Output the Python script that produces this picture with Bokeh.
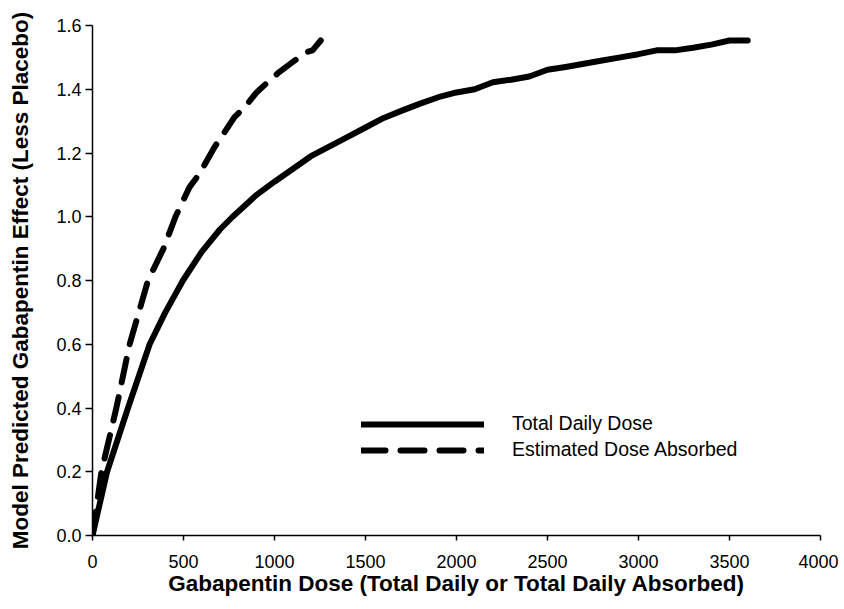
from bokeh.plotting import figure
from bokeh.models import Range1d, FixedTicker, PrintfTickFormatter, Legend, LegendItem
from bokeh.embed import file_html
from bokeh.resources import INLINE

# Total daily dose curve
dose_total = [0, 80, 195, 314, 400, 497, 600, 700, 770, 898, 1000, 1100, 1200, 1300,
              1400, 1500, 1600, 1700, 1800, 1900, 2000, 2100, 2200, 2300, 2400, 2500,
              2600, 2700, 2800, 2900, 3000, 3100, 3200, 3300, 3400, 3500, 3600]
effect_total = [0.0, 0.2, 0.4, 0.6, 0.7, 0.8, 0.89, 0.96, 1.0, 1.067, 1.11, 1.15, 1.19, 1.22,
                1.25, 1.28, 1.31, 1.333, 1.355, 1.375, 1.39, 1.40, 1.422, 1.43, 1.44, 1.461,
                1.47, 1.48, 1.49, 1.50, 1.51, 1.522, 1.522, 1.53, 1.54, 1.553, 1.553]

# Estimated dose absorbed curve
dose_abs = [0, 49, 131, 204, 305, 390, 456, 533, 588, 670, 725, 779, 840, 898, 962,
            1026, 1099, 1172, 1209, 1254]
effect_abs = [0.0, 0.2, 0.4, 0.6, 0.8, 0.9, 1.0, 1.093, 1.135, 1.218, 1.265, 1.312, 1.346,
              1.388, 1.422, 1.454, 1.485, 1.516, 1.522, 1.553]

x_ticks = [0, 500, 1000, 1500, 2000, 2500, 3000, 3500, 4000]
y_ticks = [0.0, 0.2, 0.4, 0.6, 0.8, 1.0, 1.2, 1.4, 1.6]

FONT = "Liberation Sans"

p = figure(width=838, height=598, output_backend="svg", toolbar_location=None,
           x_range=Range1d(0, 4000), y_range=Range1d(0, 1.6),
           min_border_left=92, min_border_right=18, min_border_top=25, min_border_bottom=63)
p.outline_line_color = None
p.xgrid.visible = False
p.ygrid.visible = False
p.background_fill_color = "white"
p.border_fill_color = "white"

r1 = p.line(dose_total, effect_total, line_color="black", line_width=6, line_cap="round",
            line_join="round")
r2 = p.line(dose_abs, effect_abs, line_color="black", line_width=6, line_cap="round",
            line_join="round", line_dash="24 15")

for ax in (p.xaxis[0], p.yaxis[0]):
    ax.axis_line_color = "black"
    ax.axis_line_width = 1.5
    ax.major_tick_line_color = "black"
    ax.major_tick_line_width = 1.5
    ax.major_tick_in = 0
    ax.minor_tick_line_color = None
    ax.major_label_text_font = FONT
    ax.major_label_text_font_size = "18px"
    ax.major_label_text_color = "black"
    ax.axis_label_text_font = FONT
    ax.axis_label_text_font_style = "bold"
    ax.axis_label_text_color = "black"

p.xaxis[0].major_tick_out = 5
p.yaxis[0].major_tick_out = 7
p.xaxis[0].axis_label_text_font_size = "22.5px"
p.yaxis[0].axis_label_text_font_size = "22.5px"
p.xaxis[0].ticker = FixedTicker(ticks=x_ticks)
p.yaxis[0].ticker = FixedTicker(ticks=y_ticks)
p.yaxis[0].formatter = PrintfTickFormatter(format="%.1f")
p.xaxis[0].axis_label = "Gabapentin Dose (Total Daily or Total Daily Absorbed)"
p.yaxis[0].axis_label = "Model Predicted Gabapentin Effect (Less Placebo)"
p.xaxis[0].major_label_standoff = 14
p.yaxis[0].major_label_standoff = 4
p.xaxis[0].axis_label_standoff = 0
p.yaxis[0].axis_label_standoff = 20

legend = Legend(items=[LegendItem(label="Total Daily Dose", renderers=[r1]),
                       LegendItem(label="Estimated Dose Absorbed", renderers=[r2])],
                location=(269, 74), orientation="vertical")
legend.border_line_color = None
legend.background_fill_alpha = 0
legend.padding = 0
legend.margin = 0
legend.spacing = 3
legend.glyph_width = 123
legend.glyph_height = 20
legend.label_height = 20
legend.label_standoff = 28
legend.label_text_font = FONT
legend.label_text_font_size = "19.5px"
legend.label_text_color = "black"
p.add_layout(legend, "center")

open("out.html", "w").write(file_html(p, INLINE))
